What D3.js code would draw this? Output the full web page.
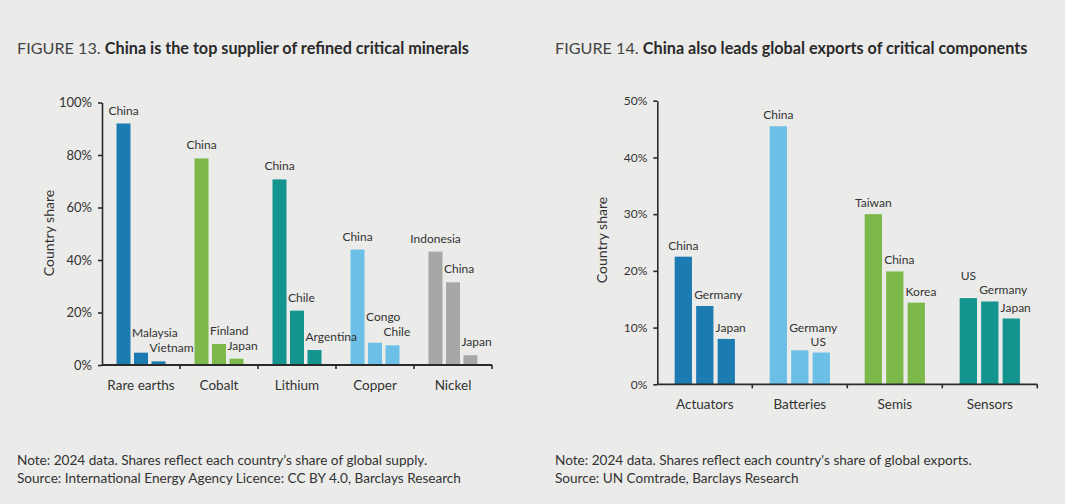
<!DOCTYPE html>
<html>
<head>
<meta charset="utf-8">
<script src="https://cdn.jsdelivr.net/npm/d3@7"></script>
<style>
  html, body { margin: 0; padding: 0; background: #ebebea; }
  svg { display: block; }
  text { font-family: Lato, "Open Sans", sans-serif; fill: #333; }
</style>
</head>
<body>
<svg id="chart" width="1065" height="504"></svg>
<script>
// ---------- Data ----------
const mineralCategories = ["Rare earths", "Cobalt", "Lithium", "Copper", "Nickel"];
const mineralCountries = [
  ["China", "Malaysia", "Vietnam"],
  ["China", "Finland", "Japan"],
  ["China", "Chile", "Argentina"],
  ["China", "Congo", "Chile"],
  ["Indonesia", "China", "Japan"]
];
const mineralShares = [
  [92.0, 4.7, 1.4],
  [78.7, 8.0, 2.4],
  [70.7, 20.7, 5.7],
  [44.0, 8.5, 7.5],
  [43.2, 31.5, 3.7]
];
const mineralTicks = [0, 20, 40, 60, 80, 100];

const componentCategories = ["Actuators", "Batteries", "Semis", "Sensors"];
const componentCountries = [
  ["China", "Germany", "Japan"],
  ["China", "Germany", "US"],
  ["Taiwan", "China", "Korea"],
  ["US", "Germany", "Japan"]
];
const componentShares = [
  [22.5, 13.8, 8.0],
  [45.5, 6.0, 5.6],
  [30.0, 19.9, 14.4],
  [15.2, 14.6, 11.6]
];
const componentTicks = [0, 10, 20, 30, 40, 50];

// ---------- Styles ----------
const mineralColors = ["#1c7bb1", "#7db84b", "#14948f", "#6cc0e7", "#a7a7a7"];
const componentColors = ["#1c7bb1", "#6cc0e7", "#7db84b", "#14948f"];

const svg = d3.select("#chart");

function drawChart(cfg) {
  const g = svg.append("g");
  const barLayer = g.append("g");
  const labelLayer = g.append("g");
  const y = d3.scaleLinear().domain([0, cfg.max]).range([cfg.y0, cfg.y1]);
  const x = d3.scaleBand().domain(cfg.categories).range([cfg.x0, cfg.x1])
    .paddingInner(cfg.pi).paddingOuter(cfg.pi / 2);
  const xi = d3.scaleBand().domain([0, 1, 2]).range([0, x.bandwidth()]).paddingInner(cfg.barPad);

  cfg.categories.forEach((cat, ci) => {
    const grp = barLayer.append("g").attr("transform", `translate(${x(cat)},0)`);
    grp.selectAll("rect").data(cfg.shares[ci]).join("rect")
      .attr("x", (d, i) => xi(i))
      .attr("width", xi.bandwidth())
      .attr("y", d => y(d))
      .attr("height", d => y(0) - y(d))
      .attr("fill", cfg.colors[ci]);

    // labels with simple de-overlap
    const ys = cfg.shares[ci].map(d => y(d) - cfg.gap);
    for (let i = ys.length - 2; i >= 0; i--) {
      if (ys[i + 1] - ys[i] < cfg.minSep) ys[i] = ys[i + 1] - cfg.minSep;
    }
    const lg = labelLayer.append("g").attr("transform", `translate(${x(cat)},0)`);
    lg.selectAll("text.lbl").data(cfg.countries[ci]).join("text")
      .attr("class", "lbl")
      .attr("x", (d, i) => i === 0 ? xi(i) + xi.bandwidth() / 2 : xi(i) - 2)
      .attr("y", (d, i) => ys[i])
      .attr("text-anchor", (d, i) => i === 0 ? "middle" : "start")
      .style("font-size", cfg.lblSize + "px")
      .text(d => d);
  });

  // y axis
  const yAxis = d3.axisLeft(y).tickValues(cfg.ticks).tickSize(4).tickSizeOuter(0)
    .tickPadding(6).tickFormat(d => d + "%");
  const ya = g.append("g").attr("transform", `translate(${cfg.x0},0)`).call(yAxis);
  ya.select(".domain").attr("stroke", "#2b2b2b").attr("stroke-width", 1.6);
  ya.selectAll(".tick line").attr("stroke", "#2b2b2b").attr("stroke-width", 1.6);
  ya.selectAll(".tick text").style("font-size", cfg.tickSize + "px")
    .style("font-family", "Lato, sans-serif").attr("fill", "#333");

  // x axis
  const step = x.step();
  const bounds = d3.range(1, cfg.categories.length + 1).map(i => cfg.x0 + i * step);
  g.append("line").attr("x1", cfg.x0).attr("x2", cfg.x1).attr("y1", y(0)).attr("y2", y(0))
    .attr("stroke", "#2b2b2b").attr("stroke-width", 1.8);
  g.selectAll("line.xt").data(bounds).join("line").attr("class", "xt")
    .attr("x1", d => d).attr("x2", d => d).attr("y1", y(0)).attr("y2", y(0) + 4)
    .attr("stroke", "#2b2b2b").attr("stroke-width", 1.6);
  g.selectAll("text.cat").data(cfg.categories).join("text").attr("class", "cat")
    .attr("x", d => x(d) + x.bandwidth() / 2)
    .attr("y", y(0) + cfg.catDy)
    .attr("text-anchor", "middle")
    .style("font-size", "13.5px")
    .text(d => d);

  // y label
  g.append("text")
    .attr("transform", `translate(${cfg.yLabelX},${cfg.yLabelY}) rotate(-90)`)
    .attr("text-anchor", "middle")
    .style("font-size", "14px")
    .text("Country share");

  // title
  const t = svg.append("text").attr("x", cfg.tx).attr("y", 54).style("font-size", "16.2px");
  t.append("tspan").attr("fill", "#444").text(cfg.figure + " ");
  t.append("tspan").style("font-weight", "bold").attr("fill", "#2a2a2a").text(cfg.title);

  // notes
  cfg.notes.forEach((n, i) => {
    svg.append("text").attr("x", cfg.tx).attr("y", 465 + i * 18)
      .style("font-size", "13.6px").attr("fill", "#3a3a3a").text(n);
  });
}

drawChart({
  categories: mineralCategories, countries: mineralCountries, shares: mineralShares,
  ticks: mineralTicks, colors: mineralColors, max: 100,
  x0: 102, x1: 492, y0: 365, y1: 102.5, pi: 0.372, barPad: 0.2,
  gap: 9, minSep: 15, lblSize: 12, tickSize: 13, catDy: 25,
  yLabelX: 54, yLabelY: 233,
  tx: 17, figure: "FIGURE 13.", title: "China is the top supplier of refined critical minerals",
  notes: ["Note: 2024 data. Shares reflect each country\u2019s share of global supply.",
          "Source: International Energy Agency Licence: CC BY 4.0, Barclays Research"]
});

drawChart({
  categories: componentCategories, countries: componentCountries, shares: componentShares,
  ticks: componentTicks, colors: componentColors, max: 50,
  x0: 657.3, x1: 1037.3, y0: 384.3, y1: 100.7, pi: 0.366, barPad: 0.195,
  gap: 7, minSep: 14, lblSize: 12, tickSize: 12, catDy: 25,
  yLabelX: 607, yLabelY: 240,
  tx: 555, figure: "FIGURE 14.", title: "China also leads global exports of critical components",
  notes: ["Note: 2024 data. Shares reflect each country's share of global exports.",
          "Source: UN Comtrade, Barclays Research"]
});
</script>
</body>
</html>
